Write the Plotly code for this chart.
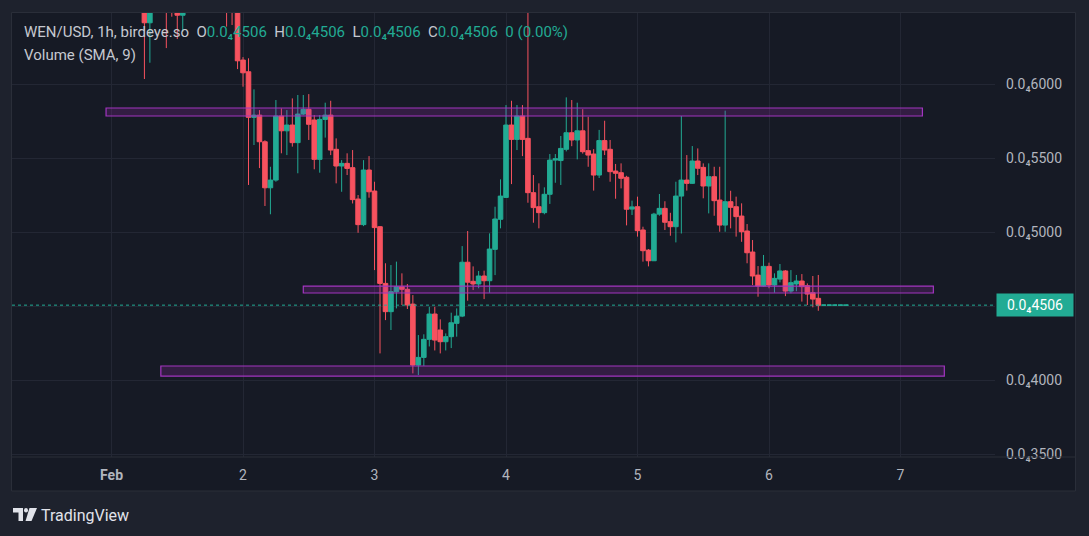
import plotly.graph_objects as go
import pandas as pd

# Hourly WEN/USD candles, first candle 2024-02-01 06:00.
# Prices are in units of 1e-8 USD  (4506 -> 0.0₄4506 = 0.00004506)
first_candle = "2024-02-01 06:00"

opens = [6700, 6414, 6600, 6680, 6620, 6560, 6540, 6465, 6530, 6600,
         6660, 6720, 6700, 6750, 6720, 6680, 6650, 6600, 6162, 6083,
         5775, 5790, 5610, 5299, 5351, 5784, 5684, 5723, 5604, 5797,
         5829, 5757, 5491, 5761, 5790, 5559, 5446, 5464, 5435, 5223,
         5050, 5419, 5277, 5036, 4653, 4462, 4597, 4631, 4613, 4513,
         4101, 4153, 4275, 4446, 4338, 4259, 4293, 4383, 4432, 4796,
         4667, 4649, 4703, 4671, 4883, 5086, 5234, 5723, 5626, 5784,
         5633, 5266, 5171, 5131, 5255, 5486, 5483, 5559, 5671, 5622,
         5684, 5550, 5527, 5385, 5618, 5559, 5412, 5401, 5370, 5155,
         5171, 5014, 4878, 4806, 5121, 5160, 5070, 5036, 5243, 5351,
         5329, 5480, 5437, 5311, 5374, 5216, 5047, 5205, 5171, 5108,
         5007, 4865, 4709, 4635, 4768, 4642, 4682, 4737, 4601, 4649,
         4669, 4637, 4590, 4552, 4506, 4506, 4506, 4506, 4506]
highs = [6760, 6650, 6720, 6740, 6680, 6620, 6600, 6560, 6640, 6700,
         6760, 6800, 6780, 6820, 6780, 6740, 6700, 6650, 6182, 6174,
         5964, 5824, 5620, 5441, 5892, 5836, 5824, 5903, 5926, 5926,
         5932, 5790, 5790, 5874, 5887, 5633, 5486, 5532, 5554, 5250,
         5486, 5513, 5340, 5040, 4789, 4777, 4800, 4721, 4649, 4574,
         4304, 4309, 4495, 4495, 4410, 4315, 4455, 4484, 4905, 5007,
         4768, 4737, 4739, 4991, 5171, 5356, 5858, 5887, 5858, 5858,
         6700, 5385, 5329, 5302, 5527, 5527, 5649, 5910, 5892, 5874,
         5830, 5779, 5560, 5690, 5752, 5622, 5460, 5464, 5380, 5212,
         5239, 5036, 4885, 5130, 5257, 5208, 5130, 5340, 5784, 5520,
         5581, 5565, 5464, 5464, 5441, 5441, 5820, 5279, 5239, 5194,
         5054, 4946, 4770, 4845, 4793, 4721, 4784, 4743, 4743, 4710,
         4716, 4653, 4703, 4710, 4506, 4506, 4506, 4506, 4506]
lows = [6034, 6144, 6540, 6560, 6243, 6455, 6304, 6353, 6500, 6560,
        6600, 6650, 6620, 6680, 6600, 6388, 6399, 6101, 5982, 5318,
        5588, 5432, 5176, 5120, 5340, 5532, 5520, 5577, 5397, 5790,
        5622, 5424, 5401, 5638, 5520, 5329, 5272, 5385, 5193, 4995,
        5040, 5232, 4743, 4180, 4405, 4338, 4484, 4507, 4480, 4045,
        4034, 4095, 4227, 4200, 4180, 4200, 4216, 4293, 4425, 4536,
        4608, 4620, 4547, 4590, 4709, 5025, 5230, 5324, 5554, 5513,
        5198, 5063, 5025, 5120, 5190, 5333, 5318, 5545, 5580, 5491,
        5530, 5441, 5280, 5365, 5520, 5340, 5225, 5295, 5045, 5115,
        4969, 4800, 4768, 4806, 5110, 5014, 4975, 4930, 4990, 5280,
        5325, 5385, 5228, 5126, 5110, 5002, 5002, 5025, 4969, 4934,
        4789, 4642, 4563, 4630, 4620, 4590, 4660, 4567, 4586, 4600,
        4530, 4507, 4491, 4468, 4506, 4506, 4506, 4506, 4506]
closes = [6414, 6600, 6680, 6620, 6560, 6540, 6465, 6530, 6600, 6660,
          6720, 6700, 6750, 6720, 6680, 6650, 6600, 6157, 6076, 5775,
          5790, 5610, 5299, 5351, 5784, 5684, 5723, 5604, 5797, 5829,
          5728, 5491, 5761, 5790, 5554, 5446, 5464, 5430, 5219, 5050,
          5419, 5272, 5030, 4653, 4462, 4597, 4631, 4613, 4507, 4101,
          4153, 4275, 4446, 4270, 4259, 4293, 4387, 4432, 4796, 4661,
          4649, 4703, 4671, 4885, 5088, 5243, 5723, 5626, 5784, 5626,
          5266, 5165, 5131, 5255, 5486, 5495, 5565, 5671, 5622, 5684,
          5543, 5520, 5385, 5618, 5554, 5408, 5397, 5363, 5154, 5170,
          5009, 4874, 4806, 5121, 5160, 5066, 5036, 5243, 5351, 5329,
          5480, 5431, 5311, 5374, 5212, 5047, 5205, 5167, 5104, 5002,
          4860, 4703, 4635, 4768, 4642, 4687, 4737, 4601, 4658, 4669,
          4631, 4581, 4547, 4505, 4506, 4506, 4506, 4506, 4506]

# drawn zones (start, end, low, high)
zone_start = ["2024-01-31 23:00", "2024-02-02 11:00", "2024-02-01 09:00"]
zone_end = ["2024-02-07 04:00", "2024-02-07 06:00", "2024-02-07 08:00"]
zone_low = [5784, 4588, 4027]
zone_high = [5838, 4635, 4095]

price_ticks = [3500, 4000, 4500, 5000, 5500, 6000]
day_ticks = ["2024-02-01", "2024-02-02", "2024-02-03", "2024-02-04",
             "2024-02-05", "2024-02-06", "2024-02-07"]
day_labels = ["<b>Feb</b>", "2", "3", "4", "5", "6", "7"]

UP = "#22ab94"
DOWN = "#f7525f"
TXT = "#b2b5be"
GRID = "#232734"
BORDER = "#2a2e39"
FONT = "Roboto, Noto Sans, sans-serif"

def fmt(v):
    return "0.0\u2084" + str(v)

times = pd.date_range(first_candle, periods=len(opens), freq="h")

fig = go.Figure()
fig.add_trace(go.Candlestick(
    x=times, open=opens, high=highs, low=lows, close=closes,
    increasing=dict(line=dict(color=UP, width=1), fillcolor=UP),
    decreasing=dict(line=dict(color=DOWN, width=1), fillcolor=DOWN),
    whiskerwidth=0, showlegend=False, hoverinfo="skip"))

# layout geometry (pixels)
W, H = 1089, 536
L, R, T, B = 12, 94, 13, 79
pw, ph = W - L - R, H - T - B

def px_x(px):
    return (px - L) / pw

def px_y(py):
    return (H - B - py) / ph

shapes = []
# chart panel background
shapes.append(dict(type="rect", xref="paper", yref="paper",
                   x0=px_x(11.5), x1=px_x(1075.5), y0=px_y(491), y1=px_y(12.5),
                   fillcolor="#161a25", line=dict(color=BORDER, width=1), layer="below"))
# separator above time scale
shapes.append(dict(type="line", xref="paper", yref="paper",
                   x0=px_x(11.5), x1=px_x(1075.5), y0=0, y1=0,
                   line=dict(color=BORDER, width=1), layer="above"))
# zones
for s, e, lo, hi in zip(zone_start, zone_end, zone_low, zone_high):
    shapes.append(dict(type="rect", xref="x", yref="y", x0=s, x1=e, y0=lo, y1=hi,
                       fillcolor="rgba(156,39,176,0.22)",
                       line=dict(color="#a235c0", width=1.2), layer="above"))
# last price dotted line
shapes.append(dict(type="line", xref="paper", yref="y", x0=0, x1=1,
                   y0=opens[-1], y1=opens[-1],
                   line=dict(color=UP, width=1, dash="dot"), layer="above"))

# TradingView logo glyph (pixels)
def path(points):
    return "M " + " L ".join(f"{px_x(a)},{px_y(b)}" for a, b in points) + " Z"

logo_col = "#e1e3ea"
shapes.append(dict(type="path", xref="paper", yref="paper",
                   path=path([(13, 508), (23, 508), (23, 521), (18.5, 521), (18.5, 512.5), (13, 512.5)]),
                   fillcolor=logo_col, line=dict(width=0)))
shapes.append(dict(type="circle", xref="paper", yref="paper",
                   x0=px_x(24), x1=px_x(28), y0=px_y(512.5), y1=px_y(508),
                   fillcolor=logo_col, line=dict(width=0)))
shapes.append(dict(type="path", xref="paper", yref="paper",
                   path=path([(29.5, 508), (37, 508), (31.5, 521), (25.5, 521)]),
                   fillcolor=logo_col, line=dict(width=0)))

nb = "\u00a0"
val = lambda v: f"<span style='color:{UP}'>{fmt(v)}</span>"
header = (f"WEN/USD, 1h, birdeye.so{nb}{nb}O{val(opens[-1])}{nb}{nb}H{val(highs[-1])}"
          f"{nb}{nb}L{val(lows[-1])}{nb}{nb}C{val(closes[-1])}{nb}{nb}"
          f"<span style='color:{UP}'>0 (0.00%)</span>")

annotations = [
    dict(xref="paper", yref="paper", x=px_x(22), y=px_y(32), xanchor="left", yanchor="middle",
         text=header, showarrow=False, font=dict(family=FONT, size=15, color="#c5c8d0")),
    dict(xref="paper", yref="paper", x=px_x(22), y=px_y(55), xanchor="left", yanchor="middle",
         text="Volume (SMA, 9)", showarrow=False, font=dict(family=FONT, size=15, color="#c5c8d0")),
    dict(xref="paper", yref="y", x=1, xshift=1, y=opens[-1], xanchor="left", yanchor="middle",
         text=fmt(opens[-1]), showarrow=False, bgcolor=UP, width=74, height=20,
         font=dict(family=FONT, size=14, color="#ffffff")),
    dict(xref="paper", yref="paper", x=px_x(39), y=px_y(515), xanchor="left", yanchor="middle",
         text="TradingView", showarrow=False, font=dict(family=FONT, size=16, color=logo_col)),
]

fig.update_layout(
    width=W, height=H, margin=dict(l=L, r=R, t=T, b=B),
    paper_bgcolor="#1e222d", plot_bgcolor="rgba(0,0,0,0)",
    boxgap=0.12, boxgroupgap=0.05,
    shapes=shapes, annotations=annotations,
    font=dict(family=FONT, color=TXT, size=14),
    xaxis=dict(type="date", range=["2024-01-31 05:50", "2024-02-07 17:15"],
               rangeslider=dict(visible=False), tickvals=day_ticks, ticktext=day_labels,
               showgrid=True, gridcolor=GRID, gridwidth=1, zeroline=False, showline=False,
               ticks="", ticklabelstandoff=8, tickfont=dict(size=14, color=TXT)),
    yaxis=dict(range=[3480, 6480], side="right", tickvals=price_ticks,
               ticktext=[fmt(v) for v in price_ticks],
               showgrid=True, gridcolor=GRID, gridwidth=1, zeroline=False, showline=False,
               ticks="", ticklabelstandoff=10, tickfont=dict(size=14, color=TXT)),
    hovermode=False,
)

fig.write_html("out.html")
